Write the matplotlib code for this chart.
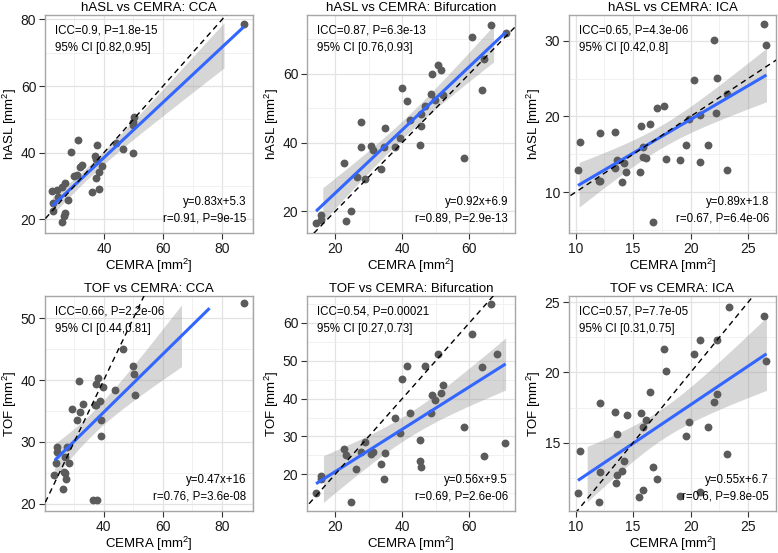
import matplotlib
matplotlib.use("Agg")
import matplotlib.pyplot as plt
import numpy as np
from matplotlib.ticker import AutoMinorLocator

plt.rcParams['font.family'] = ['Liberation Sans', 'DejaVu Sans']
plt.rcParams['mathtext.default'] = 'regular'

# ---- data ----
titles = ["hASL vs CEMRA: CCA", "hASL vs CEMRA: Bifurcation", "hASL vs CEMRA: ICA",
          "TOF vs CEMRA: CCA", "TOF vs CEMRA: Bifurcation", "TOF vs CEMRA: ICA"]
ylabels = ["hASL", "hASL", "hASL", "TOF", "TOF", "TOF"]

icc_text = ["ICC=0.9, P=1.8e-15\n95% CI [0.82,0.95]",
            "ICC=0.87, P=6.3e-13\n95% CI [0.76,0.93]",
            "ICC=0.65, P=4.3e-06\n95% CI [0.42,0.8]",
            "ICC=0.66, P=2.2e-06\n95% CI [0.44,0.81]",
            "ICC=0.54, P=0.00021\n95% CI [0.27,0.73]",
            "ICC=0.57, P=7.7e-05\n95% CI [0.31,0.75]"]
fit_text = ["y=0.83x+5.3\nr=0.91, P=9e-15",
            "y=0.92x+6.9\nr=0.89, P=2.9e-13",
            "y=0.89x+1.8\nr=0.67, P=6.4e-06",
            "y=0.47x+16\nr=0.76, P=3.6e-08",
            "y=0.56x+9.5\nr=0.69, P=2.6e-06",
            "y=0.55x+6.7\nr=0.6, P=9.8e-05"]
slopes = [0.83, 0.92, 0.89, 0.47, 0.56, 0.55]
intercepts = [5.3, 6.9, 1.8, 16, 9.5, 6.7]
line_range = [(22.6, 87.3), (14.3, 70.8), (10.2, 26.6), (23.4, 75.8), (14.3, 70.8), (10.2, 26.6)]
band_range = [(22.6, 80.6), (16.3, 67.2), (10.3, 26.6), (23.4, 66.3), (16.5, 70.8), (11.0, 26.6)]

hasl_cca_x = [87.3, 50.3, 49.7, 49.7, 49.9, 46.3, 44.0, 31.2, 28.9, 37.7, 36.9, 37.4, 39.4, 38.3,
              37.5, 32.6, 32.0, 30.9, 30.0, 36.0, 38.5, 27.8, 26.9, 25.8, 24.0, 22.3, 24.6, 22.7,
              22.9, 26.7, 26.6, 25.8]
hasl_cca_y = [78.5, 50.8, 49.3, 48.3, 40.0, 41.0, 43.0, 43.8, 40.3, 42.3, 39.0, 38.0, 36.1, 34.3,
              32.3, 36.3, 35.8, 33.3, 33.1, 28.3, 29.1, 25.8, 31.0, 29.8, 28.8, 28.6, 26.8, 24.8,
              22.6, 21.8, 21.0, 19.3]

hasl_bif_x = [66.4, 60.7, 71.0, 64.4, 63.9, 58.5, 50.7, 51.4, 48.9, 48.7, 49.7, 52.2, 46.7, 41.3,
              39.9, 45.5, 45.7, 45.2, 42.2, 39.4, 37.7, 34.8, 34.6, 31.3, 30.8, 27.6, 27.8, 33.6,
              28.8, 26.5, 22.5, 24.8, 23.3, 15.8, 15.8, 14.3]
hasl_bif_y = [74.3, 70.7, 72.0, 64.4, 55.3, 35.6, 62.6, 61.2, 59.8, 54.1, 52.4, 53.7, 50.7, 52.2,
              56.0, 48.3, 44.9, 39.3, 46.5, 41.3, 38.8, 44.2, 38.8, 37.9, 39.0, 38.8, 46.1, 32.4,
              29.3, 30.0, 34.0, 20.2, 17.3, 19.0, 17.6, 16.6]

hasl_ica_x = [26.4, 26.6, 22.0, 20.3, 22.3, 22.2, 23.2, 20.8, 19.9, 19.6, 21.5, 20.8, 19.1, 23.2,
              17.7, 17.1, 16.5, 15.7, 17.9, 15.9, 15.9, 16.1, 15.6, 16.7, 14.4, 14.2, 14.0, 13.6,
              13.4, 13.4, 12.1, 12.0, 12.1, 10.4, 10.2]
hasl_ica_y = [32.2, 29.4, 30.1, 24.8, 25.1, 20.4, 22.9, 20.2, 19.6, 16.2, 16.2, 14.0, 14.3, 12.9,
              21.4, 21.1, 19.0, 18.7, 14.4, 16.0, 14.7, 14.5, 12.6, 6.1, 12.6, 13.9, 11.4, 14.2,
              13.2, 18.0, 17.8, 11.5, 11.5, 16.6, 12.9]

tof_cca_x = [87.4, 46.5, 49.9, 50.3, 50.7, 43.7, 38.1, 37.5, 39.8, 38.6, 36.9, 37.4, 33.0, 32.1,
             31.7, 29.4, 30.8, 38.9, 38.9, 27.4, 24.0, 24.2, 26.8, 28.2, 23.8, 26.5, 27.0, 23.2,
             27.2, 26.3, 36.4, 37.7]
tof_cca_y = [52.4, 45.0, 42.2, 40.9, 37.6, 38.4, 40.3, 39.4, 38.9, 36.6, 36.0, 36.0, 36.1, 34.9,
             39.9, 35.3, 33.6, 33.6, 30.9, 29.2, 29.2, 28.3, 27.6, 26.6, 26.6, 25.1, 25.0, 24.7,
             23.9, 22.3, 20.5, 20.5]

tof_bif_x = [66.4, 60.7, 68.2, 63.9, 70.7, 64.3, 58.4, 50.5, 52.2, 51.4, 48.9, 49.7, 48.7, 46.7,
             41.4, 39.9, 42.4, 37.9, 39.4, 45.4, 45.2, 45.7, 34.8, 31.3, 30.8, 28.8, 27.8, 33.6,
             34.6, 26.3, 22.5, 23.3, 24.8, 15.8, 15.8, 14.3]
tof_bif_y = [65.0, 57.1, 51.8, 48.3, 28.2, 24.7, 32.6, 51.9, 43.7, 41.6, 41.0, 39.5, 36.3, 48.7,
             48.7, 45.2, 36.2, 34.8, 31.0, 29.1, 23.4, 21.8, 25.6, 26.0, 25.3, 28.4, 26.0, 22.7,
             18.7, 21.4, 26.7, 25.1, 12.8, 19.6, 18.8, 15.0]

tof_ica_x = [23.3, 26.4, 26.6, 22.3, 20.8, 20.3, 17.7, 17.9, 22.3, 22.0, 16.5, 21.5, 19.9, 19.6,
             23.2, 20.8, 19.1, 17.1, 16.7, 15.9, 15.5, 15.9, 15.7, 16.1, 14.5, 13.6, 13.4, 12.1,
             14.2, 14.0, 13.6, 13.5, 12.1, 12.0, 10.4, 10.2]
tof_ica_y = [24.7, 24.0, 20.8, 22.3, 22.3, 21.3, 21.7, 20.1, 18.5, 17.9, 18.6, 16.1, 16.5, 15.5,
             14.2, 11.5, 11.2, 12.4, 13.3, 11.6, 11.1, 16.1, 17.1, 16.6, 17.0, 15.6, 17.2, 17.8,
             13.7, 13.0, 12.7, 12.1, 12.9, 10.8, 14.4, 11.4]

xs_all = [hasl_cca_x, hasl_bif_x, hasl_ica_x, tof_cca_x, tof_bif_x, tof_ica_x]
ys_all = [hasl_cca_y, hasl_bif_y, hasl_ica_y, tof_cca_y, tof_bif_y, tof_ica_y]

xticks = [[40, 60, 80], [20, 40, 60], [10, 15, 20, 25], [40, 60, 80], [20, 40, 60], [10, 15, 20, 25]]
yticks = [[20, 40, 60, 80], [20, 40, 60], [10, 20, 30], [20, 30, 40, 50], [20, 30, 40, 50, 60], [15, 20, 25]]
xlims = [(20.1, 90.4), (11.6, 73.6), (9.42, 27.43), (20.1, 90.5), (11.6, 73.6), (9.42, 27.43)]
ylims = [(15.9, 81.3), (13.7, 77.1), (4.6, 33.4), (18.8, 53.6), (10.3, 67.1), (10.13, 25.45)]

# ---- layout (pixels of a 778x553 figure) ----
W, H = 778, 553
boxes = [(45, 15, 253, 233), (307, 15, 515, 233), (569, 15, 776, 233),
         (45, 296, 253, 511), (307, 296, 515, 511), (569, 296, 776, 511)]

fig = plt.figure(figsize=(W / 100, H / 100), dpi=100)

for i in range(6):
    l, t, r, b = boxes[i]
    ax = fig.add_axes([l / W, 1 - b / H, (r - l) / W, (b - t) / H])
    x = np.array(xs_all[i])
    y = np.array(ys_all[i])
    a, k = intercepts[i], slopes[i]

    ax.set_xlim(*xlims[i])
    ax.set_ylim(*ylims[i])
    ax.set_xticks(xticks[i])
    ax.set_yticks(yticks[i])
    ax.xaxis.set_minor_locator(AutoMinorLocator(2))
    ax.yaxis.set_minor_locator(AutoMinorLocator(2))
    ax.grid(which='major', color='#e3e3e3', lw=0.9, zorder=0)
    ax.grid(which='minor', color='#efefef', lw=0.6, zorder=0)
    ax.set_axisbelow(True)
    ax.tick_params(which='major', length=4.3, width=0.8, color='#333333',
                   labelsize=10, labelcolor='#1a1a1a', pad=2)
    ax.tick_params(which='minor', length=0)
    for sp in ax.spines.values():
        sp.set_color('#a6a6a6')
        sp.set_linewidth(1.0)

    # confidence band of the fitted line
    n = len(x)
    resid = y - (k * x + a)
    s = np.sqrt(np.sum(resid ** 2) / (n - 2))
    sxx = np.sum((x - x.mean()) ** 2)
    bx = np.linspace(band_range[i][0], band_range[i][1], 100)
    se = s * np.sqrt(1 / n + (bx - x.mean()) ** 2 / sxx)
    ax.fill_between(bx, k * bx + a - 2.03 * se, k * bx + a + 2.03 * se,
                    color='#999999', alpha=0.4, lw=0, zorder=2)

    ax.scatter(x, y, s=32, color='#5b5b5b', lw=0, zorder=3)

    lx = np.array(line_range[i])
    ax.plot(lx, k * lx + a, color='#3366FF', lw=2.2, zorder=4, solid_capstyle='butt')

    ident = np.array([min(xlims[i][0], ylims[i][0]), max(xlims[i][1], ylims[i][1])])
    ax.plot(ident, ident, color='black', lw=1.0, ls=(0, (4, 3)), zorder=5)

    ax.annotate(icc_text[i], xy=(0, 1), xycoords='axes fraction', xytext=(7, -7),
                textcoords='offset points', ha='left', va='top', fontsize=8.3, linespacing=1.55)
    ax.annotate(fit_text[i], xy=(1, 0), xycoords='axes fraction', xytext=(-5, 6),
                textcoords='offset points', ha='right', va='bottom', fontsize=8.3,
                linespacing=1.5, multialignment='right')

    ax.set_title(titles[i], fontsize=9.5, pad=3)
    ax.set_xlabel("CEMRA [mm$^2$]", fontsize=9.5, labelpad=1)
    ax.set_ylabel(ylabels[i] + " [mm$^2$]", fontsize=9.5, labelpad=1)

fig.savefig("out.png", dpi=100)
